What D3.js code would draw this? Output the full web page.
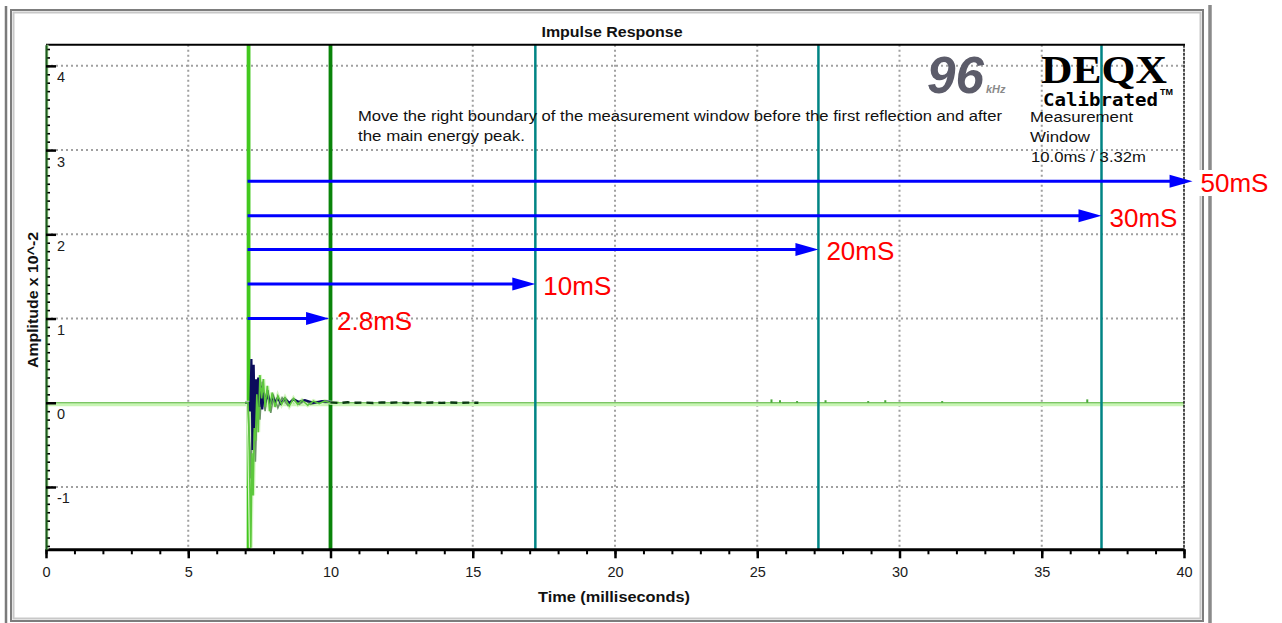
<!DOCTYPE html>
<html><head><meta charset="utf-8">
<script src="https://cdn.jsdelivr.net/npm/d3@7"></script>
<style>
body{margin:0;background:#fff;}
svg{display:block;}
</style>
</head><body>
<svg id="c" width="1282" height="623" font-family="Liberation Sans, Arial, sans-serif"></svg>
<script>
// ---------- data ----------
const xTickValues = [0,5,10,15,20,25,30,35,40];
const yTickValues = [-1,0,1,2,3,4];
const gateStart = 7.12;          // ms, bright green marker
const gateEnd = 10.0;            // ms, dark green marker
const windowMarkers = [17.2, 27.15, 37.1];
const arrowLabels = ["2.8mS","10mS","20mS","30mS","50mS"];
const arrowEnds   = [9.95, 17.2, 27.15, 37.1, 40.3];
const arrowLevels = [1.0, 1.41, 1.82, 2.22, 2.63];

const navyT = [7.00,7.12,7.18,7.22,7.26,7.30,7.34,7.38,7.42,7.46,7.50,7.55,7.60,7.66,7.72,7.80,7.88,7.96,8.05,8.15,8.25,8.40,8.55,8.70,8.90,9.10,9.40,9.70,10.0];
const navyA = [0,0,-0.1,0.52,-0.56,0.45,-0.35,0.28,-0.12,0.30,-0.05,0.2,-0.08,0.12,0.02,0.1,-0.02,0.08,0.0,0.06,-0.01,0.05,0.0,0.04,0.01,0.03,0.0,0.02,0.01];

const greenT = [7.00,7.10,7.14,7.20,7.24,7.28,7.32,7.36,7.41,7.46,7.52,7.58,7.64,7.70,7.78,7.86,7.95,8.05,8.15,8.28,8.40,8.55,8.70,8.85,9.00,9.20,9.40,9.60,9.80,10.0,10.3];
const greenA = [0,0,-0.4,-1.72,-0.6,-1.1,-0.3,-0.45,0.1,-0.35,0.33,0.05,0.28,-0.05,0.2,-0.1,0.12,-0.05,0.08,-0.02,0.06,-0.04,0.05,-0.02,0.03,-0.03,0.02,-0.01,0.02,0,0];

const grayT = [7.1,7.2,7.28,7.36,7.44,7.52,7.6,7.7,7.8,7.9,8.0,8.15,8.3,8.5,8.7,8.9,9.1,9.3,9.6,10.0];
const grayA = [0,-0.9,0.15,-0.7,0.2,-0.2,0.25,-0.1,0.15,-0.12,0.08,-0.06,0.06,-0.03,0.04,-0.02,0.03,-0.02,0.01,0];

const tailT = [10.0,10.3,10.6,10.9,11.2,11.5,11.8,12.1,12.4,12.7,13.0,13.3,13.6,13.9,14.2,14.5,14.8,15.2];
const tailA = [0.004,-0.003,0.006,0,0.003,-0.003,0.004,0,0.005,-0.003,0.003,0,0.003,-0.002,0.003,0,0.002,0];

const blipT = [25.5,25.8,26.4,27.4,28.9,29.5,31.5,36.6];
const blipA = [0.04,0.03,0.02,0.03,0.02,0.03,0.02,0.04];

// ---------- drawing ----------
const svg = d3.select("#c");
const x = d3.scaleLinear().domain([0,40]).range([46,1184]);
const y = d3.scaleLinear().domain([-1.74,4.25]).range([549.3,44.8]);
const X0 = x(0), X1 = x(40), Y0 = y(-1.74), Y1 = y(4.25);
const SANS = "Liberation Sans, Arial, sans-serif";

// window frame
svg.append("line").attr("x1",6).attr("x2",6).attr("y1",6).attr("y2",623).attr("stroke","#7a7a7a").attr("stroke-width",2.5);
svg.append("rect").attr("x",11).attr("y",10).attr("width",1192).attr("height",611).attr("fill","none").attr("stroke","#7d7d7d").attr("stroke-width",2);
svg.append("rect").attr("x",13.5).attr("y",12.5).attr("width",1187).attr("height",606).attr("fill","none").attr("stroke","#c8c8c8").attr("stroke-width",2);
svg.append("line").attr("x1",1210).attr("x2",1210).attr("y1",5).attr("y2",623).attr("stroke","#8a8a8a").attr("stroke-width",3.5);

// title
svg.append("text").attr("x",612).attr("y",37).attr("text-anchor","middle")
  .attr("font-size",14).attr("font-weight","bold").attr("fill","#111")
  .attr("textLength",141).attr("lengthAdjust","spacingAndGlyphs").text("Impulse Response");

// grid
const grid = svg.append("g").attr("stroke","#a0a0a0").attr("stroke-width",2).attr("stroke-dasharray","2,3");
grid.selectAll("line.v").data(xTickValues.filter(d=>d>0&&d<40)).join("line")
  .attr("x1",d=>x(d)).attr("x2",d=>x(d)).attr("y1",Y1).attr("y2",Y0);
grid.selectAll("line.h").data(yTickValues.filter(d=>d!==0)).join("line")
  .attr("x1",X0).attr("x2",X1).attr("y1",d=>y(d)).attr("y2",d=>y(d));

// zero line
svg.append("line").attr("x1",X0).attr("x2",X1).attr("y1",y(0)+1.5).attr("y2",y(0)+1.5).attr("stroke","#c9f5b5").attr("stroke-width",4);
svg.append("line").attr("x1",X0).attr("x2",X1).attr("y1",y(0)).attr("y2",y(0)).attr("stroke","#5cb544").attr("stroke-width",1.2);

// marker lines
svg.selectAll("line.win").data(windowMarkers).join("line")
  .attr("x1",d=>x(d)).attr("x2",d=>x(d)).attr("y1",Y1).attr("y2",Y0)
  .attr("stroke","#008484").attr("stroke-width",2.5);
svg.append("line").attr("x1",x(gateEnd)).attr("x2",x(gateEnd)).attr("y1",Y1).attr("y2",Y0).attr("stroke","#0a840a").attr("stroke-width",3.8);

// traces
const line = d3.line().x(d=>x(d[0])).y(d=>y(d[1]));
const zip = (t,a)=>t.map((v,i)=>[v,a[i]]);
svg.append("line").attr("x1",x(gateStart)).attr("x2",x(gateStart)).attr("y1",Y1).attr("y2",Y0).attr("stroke","#42c81e").attr("stroke-width",3.8);
svg.append("path").attr("d",line(zip(greenT,greenA))).attr("fill","none").attr("stroke","#d6f5c4").attr("stroke-width",4);
svg.append("path").attr("d",line(zip(grayT,grayA))).attr("fill","none").attr("stroke","#6c9468").attr("stroke-width",1.6);
svg.append("path").attr("d",line(zip(navyT,navyA))).attr("fill","none").attr("stroke","#0c0c5c").attr("stroke-width",2.2);
svg.append("path").attr("d",line(zip(greenT,greenA))).attr("fill","none").attr("stroke","#5cc83c").attr("stroke-width",1.6);
svg.append("path").attr("d",line(zip(tailT,tailA))).attr("fill","none").attr("stroke","#0a3a12").attr("stroke-width",2.4).attr("stroke-dasharray","7,5");
svg.selectAll("line.blip").data(zip(blipT,blipA)).join("line")
  .attr("x1",d=>x(d[0])).attr("x2",d=>x(d[0])).attr("y1",y(0)).attr("y2",d=>y(d[1]))
  .attr("stroke","#4aa83a").attr("stroke-width",2);

// plot border: top & right
svg.append("line").attr("x1",X0).attr("x2",X1+1).attr("y1",Y1).attr("y2",Y1).attr("stroke","#000").attr("stroke-width",2);
svg.append("line").attr("x1",X1).attr("x2",X1).attr("y1",Y1).attr("y2",Y0).attr("stroke","#111").attr("stroke-width",1.5).attr("stroke-dasharray","3,1");

// x axis
const xMinor = svg.append("g").attr("transform",`translate(0,${Y0})`)
  .call(d3.axisBottom(x).ticks(40).tickSize(5).tickFormat(""));
xMinor.select(".domain").remove();
xMinor.selectAll("line").attr("stroke","#000").attr("stroke-width",2);
const xAx = svg.append("g").attr("transform",`translate(0,${Y0})`)
  .call(d3.axisBottom(x).tickValues(xTickValues).tickSize(9).tickSizeOuter(0).tickFormat(d=>String(d)));
xAx.select(".domain").attr("stroke","#000").attr("stroke-width",3);
xAx.selectAll(".tick line").attr("stroke","#000").attr("stroke-width",2.5);
xAx.attr("font-family",SANS).attr("font-size",14.5);
xAx.selectAll("text").attr("y",17).attr("fill","#1a1a1a");
svg.append("text").attr("x",614).attr("y",602).attr("text-anchor","middle")
  .attr("font-size",15).attr("font-weight","bold").attr("fill","#111")
  .attr("textLength",152).attr("lengthAdjust","spacingAndGlyphs").text("Time (milliseconds)");

// y axis
svg.append("line").attr("x1",X0+1.5).attr("x2",X0+1.5).attr("y1",Y1).attr("y2",Y0).attr("stroke","#c8f5b8").attr("stroke-width",2);
const yMinor = svg.append("g").attr("transform",`translate(${X0},0)`)
  .call(d3.axisRight(y).ticks(60).tickSize(4).tickFormat(""));
yMinor.select(".domain").remove();
yMinor.selectAll("line").attr("stroke","#000").attr("stroke-width",1.6);
const yAx = svg.append("g").attr("transform",`translate(${X0},0)`)
  .call(d3.axisRight(y).tickValues(yTickValues).tickSize(10).tickSizeOuter(0).tickFormat(d=>String(d)));
yAx.select(".domain").attr("stroke","#1c5a1c").attr("stroke-width",2.2);
yAx.selectAll(".tick line").attr("stroke","#000").attr("stroke-width",2.5);
yAx.attr("font-family",SANS).attr("font-size",14.5);
yAx.selectAll("text").attr("x",11).attr("dy",null).attr("y",16).attr("fill","#1a1a1a");
svg.append("text").attr("transform","translate(38,300) rotate(-90)").attr("text-anchor","middle")
  .attr("font-size",14).attr("font-weight","bold").attr("fill","#111")
  .attr("textLength",136).attr("lengthAdjust","spacingAndGlyphs").text("Amplitude x 10^-2");

// instruction text
const note = svg.append("g").attr("font-size",15.5).attr("fill","#111");
note.append("text").attr("x",358).attr("y",121).attr("textLength",644).attr("lengthAdjust","spacingAndGlyphs")
  .text("Move the right boundary of the measurement window before the first reflection and after");
note.append("text").attr("x",358).attr("y",141).attr("textLength",167).attr("lengthAdjust","spacingAndGlyphs")
  .text("the main energy peak.");
const mw = svg.append("g").attr("font-size",15.5).attr("fill","#111");
mw.append("text").attr("x",1030).attr("y",122).attr("textLength",103).attr("lengthAdjust","spacingAndGlyphs").text("Measurement");
mw.append("text").attr("x",1030).attr("y",142).attr("textLength",60).attr("lengthAdjust","spacingAndGlyphs").text("Window");
mw.append("text").attr("x",1031).attr("y",162).attr("textLength",115).attr("lengthAdjust","spacingAndGlyphs").text("10.0ms / 3.32m");

// logos
svg.append("text").attr("x",927).attr("y",93).attr("font-size",52).attr("font-weight","bold").attr("font-style","italic")
  .attr("fill","#5c5c6a").attr("textLength",57).attr("lengthAdjust","spacingAndGlyphs").text("96");
svg.append("text").attr("x",986).attr("y",93).attr("font-size",11).attr("font-weight","bold").attr("font-style","italic")
  .attr("fill","#8a8a8a").text("kHz");
svg.append("text").attr("x",1041).attr("y",83).attr("font-family","Liberation Serif, DejaVu Serif, serif")
  .attr("font-size",40).attr("font-weight","bold").attr("fill","#000")
  .attr("textLength",126).attr("lengthAdjust","spacingAndGlyphs").text("DEQX");
svg.append("text").attr("x",1043).attr("y",106).attr("font-family","DejaVu Sans Mono, Liberation Mono, monospace")
  .attr("font-size",17).attr("font-weight","bold").attr("fill","#000")
  .attr("textLength",115).attr("lengthAdjust","spacingAndGlyphs").text("Calibrated");
svg.append("text").attr("x",1160).attr("y",95).attr("font-size",9).attr("font-weight","bold").attr("fill","#000").text("TM");

// arrows
const arrows = arrowLabels.map((lab,i)=>({lab, end:arrowEnds[i], lvl:arrowLevels[i]}));
svg.append("rect").attr("x",1195).attr("y",170).attr("width",76).attr("height",26).attr("fill","#fff");
const ag = svg.append("g");
ag.selectAll("line").data(arrows).join("line")
  .attr("x1",x(gateStart)-1).attr("x2",d=>x(d.end)-20).attr("y1",d=>y(d.lvl)).attr("y2",d=>y(d.lvl))
  .attr("stroke","#0000ff").attr("stroke-width",3);
ag.selectAll("path").data(arrows).join("path")
  .attr("d",d=>{const ex=x(d.end), ey=y(d.lvl); return `M${ex},${ey}L${ex-23},${ey-6.5}L${ex-23},${ey+6.5}Z`;})
  .attr("fill","#0000ff");
ag.selectAll("text").data(arrows).join("text")
  .attr("x",d=>x(d.end)+8).attr("y",d=>y(d.lvl)+11)
  .attr("font-size",26).attr("fill","#ff0000").text(d=>d.lab);
</script>
</body></html>
